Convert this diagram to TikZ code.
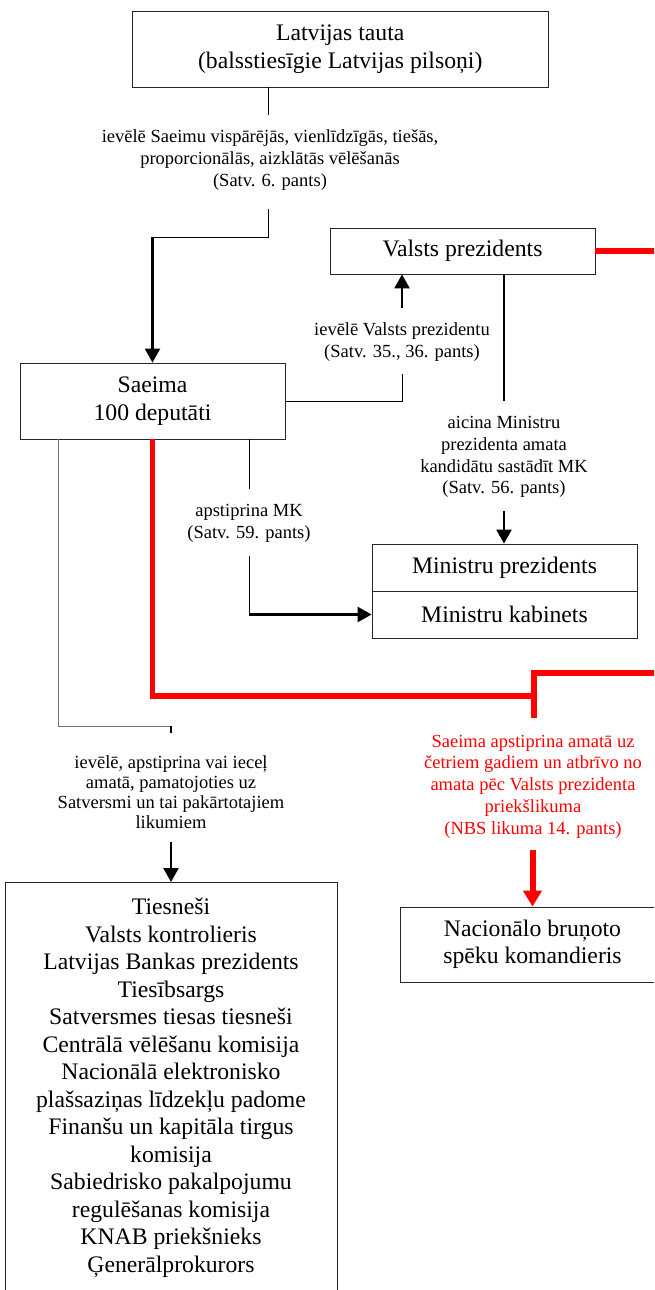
\documentclass[tikz,border=0pt]{standalone}
\usepackage{fontspec}
\setmainfont{Liberation Serif}
\usetikzlibrary{arrows.meta}
\begin{document}
\begin{tikzpicture}[x=1pt,y=-1pt,
 box/.style={draw=black!85, line width=0.8pt, inner sep=0pt, align=center, font=\fontsize{23.7}{27.5}\selectfont},
 lbl/.style={inner sep=0pt, align=center, font=\fontsize{18.5}{21.7}\selectfont},
 thinl/.style={line width=0.8pt},
 arr/.style={line width=2.4pt, -{Triangle[length=14pt,width=15pt]}},
 redl/.style={line width=5.5pt, red},
 redarr/.style={line width=6pt, red, -{Triangle[length=16pt,width=18pt]}}]
\useasboundingbox (0,0) rectangle (654,1290);
\clip (0,0) rectangle (654,1290);
\fill[white] (0,0) rectangle (654,1290);

% boxes
\node[box, minimum width=415.5pt, minimum height=76pt] (tauta) at (340.25,49) {Latvijas tauta\\(balsstiesīgie Latvijas pilsoņi)};
\node[box, minimum width=265pt, minimum height=46pt] (vp) at (462.5,251) {Valsts prezidents};
\node[box, minimum width=265pt, minimum height=76pt] (saeima) at (152.5,401) {Saeima\\100 deputāti};
\node[box, minimum width=265pt, minimum height=47pt] (mp) at (504.5,567.5) {Ministru prezidents};
\node[box, minimum width=265pt, minimum height=47pt] (mk) at (504.5,614.5) {Ministru kabinets};
\node[box, minimum width=265pt, minimum height=75pt] (nbs) at (532.5,944.5) {Nacionālo bruņoto\\spēku komandieris};
\node[box, minimum width=332pt, minimum height=440pt, anchor=north] (bot) at (171,882) {};
\node[box, draw=none] (botlist) at (171,1088) {Tiesneši\\Valsts kontrolieris\\Latvijas Bankas prezidents\\Tiesībsargs\\Satversmes tiesas tiesneši\\Centrālā vēlēšanu komisija\\Nacionālā elektronisko\\plašsaziņas līdzekļu padome\\Finanšu un kapitāla tirgus\\komisija\\Sabiedrisko pakalpojumu\\regulēšanas komisija\\KNAB priekšnieks\\Ģenerālprokurors};

% labels
\node[lbl] (l1) at (270,160) {ievēlē Saeimu vispārējās, vienlīdzīgās, tiešās,\\proporcionālās, aizklātās vēlēšanās\\(Satv. 6. pants)};
\node[lbl] (l2) at (402,342) {ievēlē Valsts prezidentu\\(Satv. 35., 36. pants)};
\node[lbl] (l3) at (504,457) {aicina Ministru\\prezidenta amata\\kandidātu sastādīt MK\\(Satv. 56. pants)};
\node[lbl] (l4) at (249,523.5) {apstiprina MK\\(Satv. 59. pants)};
\node[lbl, text=red] (l5) at (533,786.5) {Saeima apstiprina amatā uz\\četriem gadiem un atbrīvo no\\amata pēc Valsts prezidenta\\priekšlikuma\\(NBS likuma 14. pants)};
\node[lbl, font=\fontsize{18.5}{20.2}\selectfont] (l6) at (171,792) {ievēlē, apstiprina vai ieceļ\\amatā, pamatojoties uz\\Satversmi un tai pakārtotajiem\\likumiem};

% Latvijas tauta -> Saeima
\coordinate (a1) at (268,115);
\coordinate (a2) at (268,209);
\coordinate (a3) at (268,237);
\draw[thinl] (a1 |- tauta.south) -- (a1);
\draw[thinl] (a2) -- (a3) -- (a3 -| saeima.north);
\draw[arr] (a3 -| saeima.north) -- (saeima.north);

% Saeima -> Valsts prezidents
\coordinate (b1) at (402,374);
\coordinate (b2) at (402,308);
\draw[line width=1pt] (saeima.east) -| (b1);
\draw[arr] (b2) -- (b2 |- vp.south);

% Valsts prezidents -> Ministru prezidents
\coordinate (c1) at (504,401);
\coordinate (c2) at (504,511);
\draw[line width=1.5pt] (vp.south -| c1) -- (c1);
\draw[arr] (c2) -- (c2 |- mp.north);

% Saeima -> Ministru kabinets
\coordinate (d1) at (249,489);
\coordinate (d2) at (249,556);
\draw[thinl] (saeima.south -| d1) -- (d1);
\draw[thinl] (d2) -- (d2 |- mk.west);
\draw[arr] (d2 |- mk.west) -- (mk.west);

% red connectors
\coordinate (r1) at (534,696);
\coordinate (r2) at (660,673);
\coordinate (r3) at (534,718);
\coordinate (r4) at (532.5,850);
\draw[redl] (vp.east) -- (vp.east -| r2);
\draw[redl] (saeima.south) |- (r1) |- (r2);
\draw[redl] (r1) -- (r3);
\draw[redarr] (r4) -- (nbs.north);

% Saeima -> appointed officials
\coordinate (g0) at (58,726);
\coordinate (g1) at (171,726);
\coordinate (g2) at (171,842);
\draw[line width=0.9pt, black!55] (saeima.south -| g0) -- (g0) -- (g1);
\draw[line width=2pt] (g1) -- ++(0,7);
\draw[arr] (g2) -- (bot.north);
\end{tikzpicture}
\end{document}
